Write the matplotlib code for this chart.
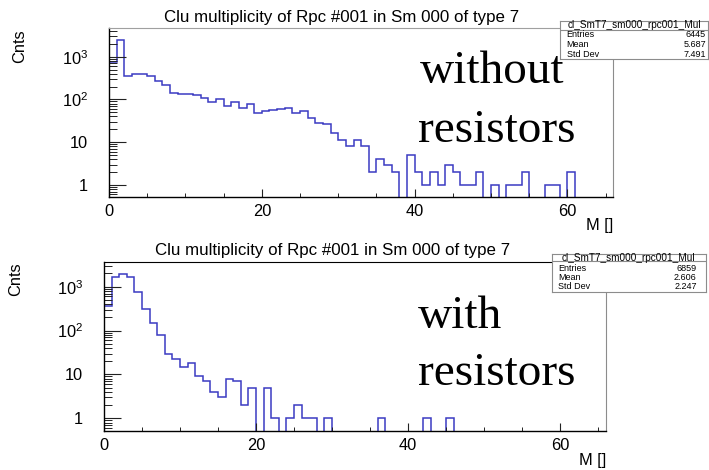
import numpy as np
import matplotlib.pyplot as plt
from matplotlib.ticker import MultipleLocator, LogLocator, NullFormatter

plt.rcParams['font.family'] = ['Liberation Sans', 'DejaVu Sans']
plt.rcParams['mathtext.fontset'] = 'custom'
plt.rcParams['mathtext.rm'] = 'Liberation Sans'
plt.rcParams['mathtext.it'] = 'Liberation Sans:italic'

W, H = 709, 470  # figure size in pixels

title = "Clu multiplicity of Rpc #001 in Sm 000 of type 7"
hname = "cl_SmT7_sm000_rpc001_Mul"
stat_names = ["Entries", "Mean", "Std Dev"]

# bin edges, one bin per multiplicity value
edges = np.arange(0, 67, 1)

# counts per bin (log scale)
cnt_without = [770, 2400, 355, 400, 400, 360, 270, 215, 145, 134,
               134, 130, 110, 89, 100, 72, 88, 63, 80, 48,
               54, 58, 60, 62, 47, 54, 36, 28, 27, 16,
               11, 8, 11, 8, 2, 4, 3, 2, 0, 5,
               2, 1, 2, 1, 3, 2, 1, 1, 2, 0,
               1, 0, 1, 1, 2, 0, 0, 1, 1, 0,
               2, 0, 0, 0, 0, 0]
cnt_with = [357, 1690, 1910, 1690, 770, 305, 146, 80, 30, 22,
            15, 18, 9, 7, 4, 3, 8, 7, 2, 5,
            0, 5, 1, 0, 1, 2, 1, 1, 0, 1,
            0, 0, 0, 0, 0, 0, 1, 0, 0, 0,
            0, 0, 1, 0, 0, 1, 0, 0, 0, 0,
            0, 0, 0, 0, 0, 0, 0, 0, 0, 0,
            0, 0, 0, 0, 0, 0]
stats_without = ["6445", "5.687", "7.491"]
stats_with = ["6859", "2.606", "2.247"]

yticks = [1, 10, 100, 1000]
ytick_labels = ["1", "10", "$10^2$", "$10^3$"]
xticks = [0, 20, 40, 60]

line_col = "#3b3bc2"


def px_axes(fig, x0, y0, x1, y1):
    # axes from pixel box (top-left origin)
    return fig.add_axes([x0 / W, 1 - y1 / H, (x1 - x0) / W, (y1 - y0) / H])


def draw_hist(ax, counts, ylim, top_col):
    c = np.array(counts, float)
    c = np.where(c > 0, c, 1e-6)
    ax.stairs(c, edges, baseline=1e-6, color=line_col, lw=1.1)
    ax.set_yscale("log")
    ax.set_xlim(0, 66)
    ax.set_ylim(*ylim)
    ax.set_yticks(yticks, ytick_labels)
    ax.yaxis.set_minor_locator(LogLocator(base=10, subs=np.arange(2, 10)))
    ax.yaxis.set_minor_formatter(NullFormatter())
    ax.set_xticks(xticks)
    ax.xaxis.set_minor_locator(MultipleLocator(5))
    ax.tick_params(axis="both", which="both", direction="in", top=False, right=False,
                   labelsize=11.8, color="#222222")
    ax.tick_params(axis="y", which="major", length=12, width=0.8, pad=15)
    ax.tick_params(axis="y", which="minor", length=6, width=0.7)
    ax.tick_params(axis="x", which="major", length=6, width=0.8, pad=5)
    ax.tick_params(axis="x", which="minor", length=3, width=0.7)
    for s in ["left", "bottom"]:
        ax.spines[s].set_color("black")
        ax.spines[s].set_linewidth(1.0)
    ax.spines["top"].set_color(top_col)
    ax.spines["right"].set_color("#8c8c8c")


def stats_box(fig, box, hdr, rows_y, lab_x, val_x, values):
    bax = px_axes(fig, *box)
    bax.set_xlim(0, 1)
    bax.set_ylim(0, 1)
    bax.set_xticks([])
    bax.set_yticks([])
    for s in bax.spines.values():
        s.set_color("#8c8c8c")
        s.set_linewidth(0.8)
    bax.axhline(hdr[0], color="#8c8c8c", lw=0.8)
    bax.text(0.5, hdr[1], hname, ha="center", va="center", fontsize=7.2)
    for ry, name, val in zip(rows_y, stat_names, values):
        bax.text(lab_x, ry, name, ha="left", va="center", fontsize=6.5)
        bax.text(val_x, ry, val, ha="right", va="center", fontsize=6.5)


fig = plt.figure(figsize=(W / 100, H / 100), dpi=100)

# upper pad: without resistors
ax1 = px_axes(fig, 109, 28.3, 613.3, 196.7)
draw_hist(ax1, cnt_without, (0.533, 4600), "#a0a0a0")
# lower pad: with resistors
ax2 = px_axes(fig, 104, 262.3, 605.7, 431)
draw_hist(ax2, cnt_with, (0.514, 3600), "black")

fig.text(341.7 / W, 1 - 21.7 / H, title, ha="center", va="baseline", fontsize=12.2)
fig.text(333 / W, 1 - 255 / H, title, ha="center", va="baseline", fontsize=12.2)

fig.text(20 / W, 1 - 46 / H, "Cnts", rotation=90, ha="center", va="center", fontsize=11.8)
fig.text(16 / W, 1 - 279 / H, "Cnts", rotation=90, ha="center", va="center", fontsize=11.8)

fig.text(613 / W, 1 - 218 / H, "M []", ha="right", va="top", fontsize=11.8)
fig.text(606 / W, 1 - 453 / H, "M []", ha="right", va="top", fontsize=11.8)

serif = ["Liberation Serif", "DejaVu Serif"]
fig.text(420 / W, 1 - 83 / H, "without", family=serif, fontsize=34, va="baseline")
fig.text(418 / W, 1 - 142 / H, "resistors", family=serif, fontsize=34, va="baseline")
fig.text(418 / W, 1 - 328 / H, "with", family=serif, fontsize=34, va="baseline")
fig.text(418 / W, 1 - 385 / H, "resistors", family=serif, fontsize=34, va="baseline")

stats_box(fig, (560, 20.7, 708, 59.3), (0.767, 0.883), (0.648, 0.389, 0.13),
          0.045, 0.986, stats_without)
stats_box(fig, (551.7, 254.3, 706, 292.3), (0.824, 0.91), (0.632, 0.384, 0.147),
          0.041, 0.94, stats_with)

fig.savefig("out.png", dpi=100)
